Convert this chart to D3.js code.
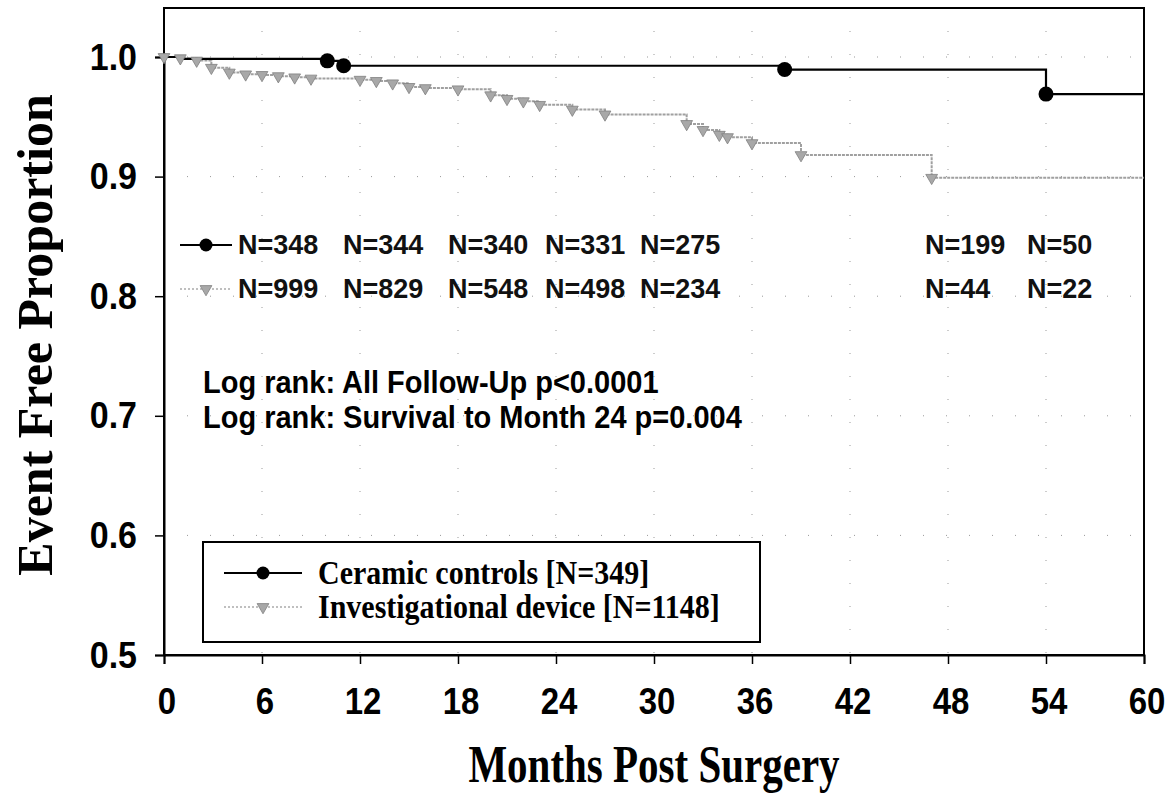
<!DOCTYPE html>
<html><head><meta charset="utf-8">
<script src="https://cdn.jsdelivr.net/npm/d3@7"></script>
<style>body{margin:0;background:#fff}</style>
</head><body>
<svg id="c" width="1167" height="809"></svg>
<script>
// ---------- data ----------
const xTicks = [0, 6, 12, 18, 24, 30, 36, 42, 48, 54, 60];
const yTicks = [0.5, 0.6, 0.7, 0.8, 0.9, 1.0];
const yTickLabels = ["0.5", "0.6", "0.7", "0.8", "0.9", "1.0"];

const ceramicTime = [0, 1, 10, 11, 38, 54, 60];
const ceramicSurv = [1.0, 0.9985, 0.9968, 0.9927, 0.9895, 0.969, 0.969];
const ceramicMarkTime = [10, 11, 38, 54];
const ceramicMarkSurv = [0.9968, 0.9927, 0.9895, 0.969];

const investTime = [0, 1, 2, 2.9, 4, 5, 6, 7, 8, 9, 12, 13, 14, 15, 16, 18, 20, 21, 22, 23, 25, 27, 32, 33, 34, 34.5, 36, 39, 47, 60];
const investSurv = [1.0, 0.999, 0.997, 0.991, 0.987, 0.9855, 0.985, 0.984, 0.983, 0.982, 0.981, 0.980, 0.978, 0.975, 0.974, 0.973, 0.968, 0.965, 0.963, 0.960, 0.956, 0.952, 0.944, 0.939, 0.935, 0.933, 0.928, 0.918, 0.899, 0.899];

const ceramicAtRisk = ["N=348", "N=344", "N=340", "N=331", "N=275", "N=199", "N=50"];
const investAtRisk = ["N=999", "N=829", "N=548", "N=498", "N=234", "N=44", "N=22"];

const logRankLines = ["Log rank: All Follow-Up p<0.0001", "Log rank: Survival to Month 24 p=0.004"];
const legendLabels = ["Ceramic controls [N=349]", "Investigational device [N=1148]"];
const xTitle = "Months Post Surgery";
const yTitle = "Event Free Proportion";

// ---------- layout ----------
const L = 164, R = 1144, T = 8, B = 655;
const atRiskX = [238, 343, 448, 545, 640, 925, 1027];
const svg = d3.select("#c");
const x = d3.scaleLinear().domain([0, 60]).range([L, R]);
const y = d3.scaleLinear().domain([0.5, 1.0]).range([B, 57]);
const sans = "'Liberation Sans', Arial, sans-serif";
const serif = "'Liberation Serif', 'Times New Roman', serif";

function stext(g, tx, ty, txt, size, fam, anchor, sy, fill) {
  return g.append("text")
    .attr("transform", `translate(${tx},${ty}) scale(1,${sy})`)
    .attr("text-anchor", anchor).attr("dominant-baseline", "central")
    .attr("font-family", fam).attr("font-weight", "bold")
    .attr("font-size", size).attr("fill", fill || "#000").text(txt);
}

// sparse dotted grid
const grid = svg.append("g").attr("stroke", "#999").attr("stroke-width", 1).attr("stroke-dasharray", "1,22");
xTicks.slice(1, -1).forEach(t => grid.append("line").attr("x1", x(t)).attr("x2", x(t)).attr("y1", T).attr("y2", B));
yTicks.slice(1).forEach(v => grid.append("line").attr("x1", L).attr("x2", R).attr("y1", y(v)).attr("y2", y(v)));

// frame
svg.append("rect").attr("x", L).attr("y", T).attr("width", R - L).attr("height", B - T)
  .attr("fill", "none").attr("stroke", "#000").attr("stroke-width", 2);

// axes
const xAxis = d3.axisBottom(x).tickValues(xTicks).tickSize(9).tickFormat(d => d);
const gx = svg.append("g").attr("transform", `translate(0,${B})`).call(xAxis);
gx.select(".domain").attr("stroke-width", 2);
gx.selectAll(".tick line").attr("stroke-width", 1.5);
gx.selectAll(".tick text").remove();
xTicks.forEach(t => stext(svg, x(t) + 3, 701, String(t), 33, sans, "middle", 1.12));

const yAxis = d3.axisLeft(y).tickValues(yTicks).tickSize(9);
const gy = svg.append("g").attr("transform", `translate(${L},0)`).call(yAxis);
gy.select(".domain").attr("stroke-width", 2);
gy.selectAll(".tick line").attr("stroke-width", 1.5);
gy.selectAll(".tick text").remove();
yTicks.forEach((v, i) => stext(svg, 137, y(v), yTickLabels[i], 34, sans, "end", 1.1));

// titles
stext(svg, 654, 764, xTitle, 41, serif, "middle", 1.3);
svg.append("text").attr("transform", `translate(35,335) rotate(-90)`)
  .attr("text-anchor", "middle").attr("dominant-baseline", "central")
  .attr("font-family", serif).attr("font-weight", "bold").attr("font-size", 50).text(yTitle);

// curves
const step = d3.line().x(d => x(d[0])).y(d => y(d[1])).curve(d3.curveStepAfter);
const investPts = investTime.map((t, i) => [t, investSurv[i]]);
const ceramicPts = ceramicTime.map((t, i) => [t, ceramicSurv[i]]);
svg.append("path").attr("d", step(investPts)).attr("fill", "none")
  .attr("stroke", "#a0a0a0").attr("stroke-width", 2).attr("stroke-dasharray", "3,1");
svg.append("path").attr("d", step(ceramicPts)).attr("fill", "none")
  .attr("stroke", "#000").attr("stroke-width", 2.2);

const tri = d3.symbol().type(d3.symbolTriangle).size(60);
svg.append("g").selectAll("path").data(investPts.slice(0, -1)).join("path")
  .attr("d", tri).attr("transform", d => `translate(${x(d[0])},${y(d[1])}) rotate(180)`)
  .attr("fill", "#a8a8a8").attr("stroke", "#808080").attr("stroke-width", 0.8);
svg.append("g").selectAll("circle").data(ceramicMarkTime).join("circle")
  .attr("cx", d => x(d)).attr("cy", (d, i) => y(ceramicMarkSurv[i])).attr("r", 7.5).attr("fill", "#000");

// at-risk rows
const row1 = 245, row2 = 289;
svg.append("line").attr("x1", 180).attr("x2", 232).attr("y1", row1).attr("y2", row1).attr("stroke", "#000").attr("stroke-width", 2);
svg.append("circle").attr("cx", 206).attr("cy", row1).attr("r", 6.5).attr("fill", "#000");
svg.append("line").attr("x1", 180).attr("x2", 232).attr("y1", row2).attr("y2", row2).attr("stroke", "#aaa").attr("stroke-width", 1.5).attr("stroke-dasharray", "2,2");
svg.append("path").attr("d", tri).attr("transform", `translate(206,${row2}) rotate(180)`).attr("fill", "#a8a8a8").attr("stroke", "#808080").attr("stroke-width", 0.8);
ceramicAtRisk.forEach((s, i) => stext(svg, atRiskX[i], row1, s, 27, sans, "start", 1.0, "#111"));
investAtRisk.forEach((s, i) => stext(svg, atRiskX[i], row2, s, 27, sans, "start", 1.0, "#111"));

// log rank
logRankLines.forEach((s, i) => stext(svg, 203, 382 + i * 35, s, 29, sans, "start", 1.05));

// legend box
svg.append("rect").attr("x", 203).attr("y", 542).attr("width", 557).attr("height", 100)
  .attr("fill", "#fff").attr("stroke", "#000").attr("stroke-width", 2);
const ly1 = 573, ly2 = 607;
svg.append("line").attr("x1", 224).attr("x2", 302).attr("y1", ly1).attr("y2", ly1).attr("stroke", "#000").attr("stroke-width", 2);
svg.append("circle").attr("cx", 263).attr("cy", ly1).attr("r", 6.5).attr("fill", "#000");
svg.append("line").attr("x1", 224).attr("x2", 302).attr("y1", ly2).attr("y2", ly2).attr("stroke", "#aaa").attr("stroke-width", 1.5).attr("stroke-dasharray", "2,2");
svg.append("path").attr("d", tri).attr("transform", `translate(263,${ly2}) rotate(180)`).attr("fill", "#a8a8a8").attr("stroke", "#808080").attr("stroke-width", 0.8);
legendLabels.forEach((s, i) => stext(svg, 318, i ? ly2 : ly1, s, 30, serif, "start", 1.1));
</script>
</body></html>
